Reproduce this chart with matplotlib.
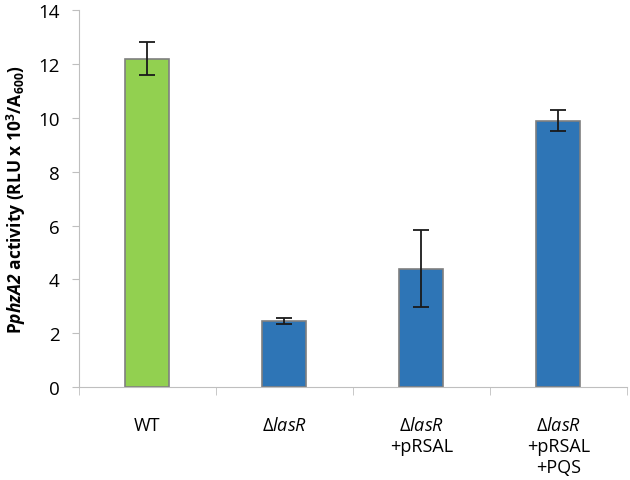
import matplotlib
matplotlib.use("Agg")
from matplotlib import pyplot as plt
import numpy as np

plt.rcParams['font.family'] = ['Open Sans', 'DejaVu Sans']
plt.rcParams['mathtext.fontset'] = 'custom'
plt.rcParams['mathtext.rm'] = 'Open Sans'
plt.rcParams['mathtext.it'] = 'Open Sans:italic'
plt.rcParams['mathtext.bf'] = 'Open Sans:bold'
plt.rcParams['mathtext.bfit'] = 'Open Sans:bold:italic'

labels = ["WT", "Δ$\\it{lasR}$", "Δ$\\it{lasR}$\n+pRSAL", "Δ$\\it{lasR}$\n+pRSAL\n+PQS"]
values = [12.2, 2.45, 4.4, 9.9]
errors = [0.6, 0.12, 1.42, 0.4]
colors = ["#92D050", "#2E75B6", "#2E75B6", "#2E75B6"]

fig = plt.figure(figsize=(6.3, 4.81), dpi=100)
ax = fig.add_axes([0.125, 0.193, 0.87, 0.784])

x = np.arange(len(values))
ax.bar(x, values, width=0.32, color=colors, edgecolor="#7F7F7F", linewidth=1.2,
       yerr=errors, capsize=6, error_kw=dict(ecolor="#1a1a1a", elinewidth=1.3, capthick=1.3))

ax.set_xlim(-0.5, len(values) - 0.5)
ax.set_ylim(0, 14)
ax.set_yticks(range(0, 15, 2))
ax.set_xticks(x)
ax.set_xticklabels(labels, fontsize=13, va="top", linespacing=1.22)
ax.set_xticks(np.arange(-0.5, len(values), 1), minor=True)
ax.tick_params(axis="x", which="major", length=0, pad=21)
ax.tick_params(axis="x", which="minor", length=6, color="#BFBFBF", direction="out")
ax.tick_params(axis="y", length=5, color="#BFBFBF", labelsize=13.5, pad=9)

for s in ["top", "right"]:
    ax.spines[s].set_visible(False)
ax.spines["left"].set_color("#BFBFBF")
ax.spines["bottom"].set_color("#BFBFBF")

ax.set_ylabel("P$\\mathbfit{phzA2}$ activity (RLU x 10$^\\mathbf{3}$/A$_\\mathbf{600}$)",
              fontsize=12.5, fontweight="bold", labelpad=7)

plt.savefig("out.png", dpi=100)
